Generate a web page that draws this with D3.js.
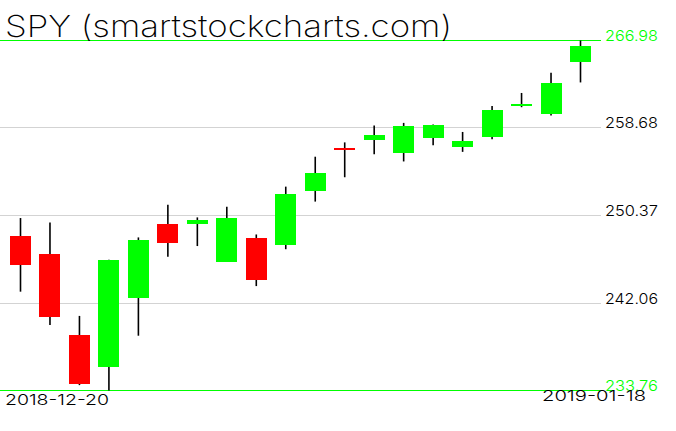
<!DOCTYPE html>
<html>
<head>
<meta charset="utf-8">
<script src="https://cdn.jsdelivr.net/npm/d3@7"></script>
<style>
    body { margin: 0; background: #fff; }
    svg { display: block; }
    text { font-family: Inter, "DejaVu Sans", sans-serif; }
</style>
</head>
<body>
<svg id="chart-svg"></svg>
<script>
// daily SPY candles
const dates = ["2018-12-20", "2018-12-21", "2018-12-24", "2018-12-26", "2018-12-27",
    "2018-12-28", "2018-12-31", "2019-01-02", "2019-01-03", "2019-01-04",
    "2019-01-07", "2019-01-08", "2019-01-09", "2019-01-10", "2019-01-11",
    "2019-01-14", "2019-01-15", "2019-01-16", "2019-01-17", "2019-01-18"];
const opens = [248.42, 246.74, 239.04, 235.97, 242.57, 249.58, 249.56, 245.98, 248.23, 247.59,
    252.69, 256.82, 257.56, 256.26, 257.68, 256.86, 257.82, 260.83, 259.98, 264.98];
const highs = [250.13, 249.71, 240.84, 246.18, 248.29, 251.40, 250.19, 251.21, 248.57, 253.11,
    255.95, 257.31, 258.91, 259.16, 259.01, 258.30, 260.76, 262.00, 263.92, 266.98];
const lows = [243.14, 239.98, 234.27, 233.76, 238.96, 246.45, 247.47, 245.95, 243.67, 247.17,
    251.69, 254.00, 256.19, 255.50, 257.03, 256.41, 257.60, 260.65, 259.85, 263.00];
const closes = [245.70, 240.70, 234.34, 246.18, 248.07, 247.75, 249.92, 250.18, 244.21, 252.39,
    254.38, 256.77, 257.97, 258.88, 258.98, 257.40, 260.35, 260.98, 262.96, 266.46];
const priceTicks = [233.76, 242.06, 250.37, 258.68, 266.98];
const title = "SPY (smartstockcharts.com)";

class CandleVis {
    constructor(_parentElement) {
        this.parentElement = _parentElement;
        this.data = dates.map((d, i) => ({
            date: d, open: opens[i], high: highs[i], low: lows[i], close: closes[i]
        }));
        this.upColor = "#00ff00";
        this.downColor = "#ff0000";
        this.initVis();
    }

    initVis() {
        const self = this;
        self.width = 676;
        self.height = 431;

        self.svg = d3.select("#" + self.parentElement)
            .attr("width", self.width)
            .attr("height", self.height);

        self.x = d3.scalePoint().domain(dates).range([20.5, 580.5]);
        self.y = d3.scaleLinear()
            .domain([d3.min(priceTicks), d3.max(priceTicks)])
            .range([390.5, 40.5]);
        self.bodyWidth = 21;

        let minP = d3.min(priceTicks), maxP = d3.max(priceTicks);

        // horizontal price lines
        self.svg.append("g").selectAll("line")
            .data(priceTicks)
            .enter()
            .append("line")
            .attr("x1", 0)
            .attr("x2", 601)
            .attr("y1", d => self.y(d))
            .attr("y2", d => self.y(d))
            .style("stroke", d => (d === minP || d === maxP) ? self.upColor : "#d3d3d3")
            .style("stroke-width", 1)
            .style("shape-rendering", "crispEdges");

        self.svg.append("g").selectAll("text")
            .data(priceTicks)
            .enter()
            .append("text")
            .attr("x", 605)
            .attr("y", d => self.y(d) + 0.5)
            .attr("textLength", 53)
            .attr("lengthAdjust", "spacingAndGlyphs")
            .style("font-size", "15px")
            .style("font-weight", 300)
            .style("fill", d => (d === minP || d === maxP) ? self.upColor : "#000")
            .text(d => d.toFixed(2));

        // candles: wick first, body on top
        let candles = self.svg.append("g").selectAll("g")
            .data(self.data)
            .enter()
            .append("g");

        candles.append("line")
            .attr("x1", d => self.x(d.date))
            .attr("x2", d => self.x(d.date))
            .attr("y1", d => self.y(d.high))
            .attr("y2", d => self.y(d.low))
            .style("stroke", "#000")
            .style("stroke-width", 1.6);

        candles.append("rect")
            .attr("x", d => self.x(d.date) - self.bodyWidth / 2)
            .attr("y", d => self.y(Math.max(d.open, d.close)))
            .attr("width", self.bodyWidth)
            .attr("height", d => Math.max(2, Math.abs(self.y(d.open) - self.y(d.close))))
            .style("fill", d => d.close >= d.open ? self.upColor : self.downColor)
            .style("shape-rendering", "crispEdges");

        // first / last date
        self.svg.append("text")
            .attr("x", 5)
            .attr("y", 405)
            .attr("textLength", 104)
            .attr("lengthAdjust", "spacingAndGlyphs")
            .style("font-size", "15px")
            .style("font-weight", 300)
            .text(dates[0]);

        self.svg.append("text")
            .attr("x", 542)
            .attr("y", 401)
            .attr("textLength", 104)
            .attr("lengthAdjust", "spacingAndGlyphs")
            .style("font-size", "15px")
            .style("font-weight", 300)
            .text(dates[dates.length - 1]);

        self.svg.append("text")
            .attr("x", 5)
            .attr("y", 37)
            .attr("textLength", 447)
            .attr("lengthAdjust", "spacingAndGlyphs")
            .style("font-size", "30px")
            .style("font-weight", 200)
            .text(title);
    }
}

new CandleVis("chart-svg");
</script>
</body>
</html>
